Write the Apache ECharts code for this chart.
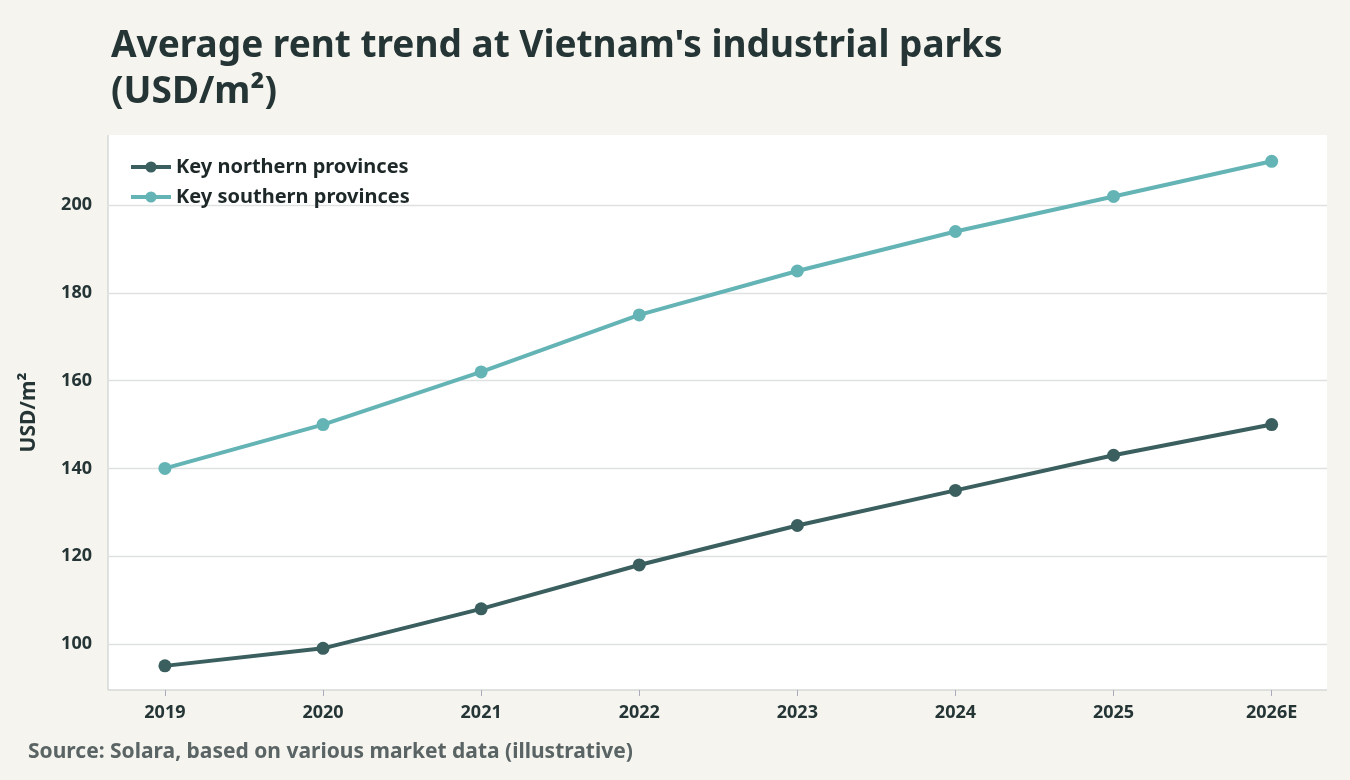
<!DOCTYPE html>
<html>
<head>
<meta charset="utf-8">
<script src="https://cdn.jsdelivr.net/npm/echarts@6/dist/echarts.min.js"></script>
<style>html,body{margin:0;background:#f5f4ef}#chart{width:1350px;height:780px}</style>
</head>
<body>
<div id="chart"></div>
<script>
// data
const years = ['2019', '2020', '2021', '2022', '2023', '2024', '2025', '2026E'];
const northern = [95, 99, 108, 118, 127, 135, 143, 150];
const southern = [140, 150, 162, 175, 185, 194, 202, 210];
const yTicks = [100, 120, 140, 160, 180, 200];

const chart = echarts.init(document.getElementById('chart'));
const font = '"Noto Sans", sans-serif';
const pairs = arr => arr.map((v, i) => [i, v]);
const xIdx = years.map((_, i) => i);

const option = {
  backgroundColor: '#f5f4ef',
  textStyle: { fontFamily: font },
  title: {
    text: "Average rent trend at Vietnam's industrial parks\n(USD/m²)",
    left: 106, top: 18,
    textStyle: { fontSize: 37, fontWeight: 'bold', color: '#253535', lineHeight: 46, fontFamily: font }
  },
  graphic: [
    { type: 'rect', z: -1, shape: { x: 108, y: 135, width: 1219, height: 555 }, style: { fill: '#fff' } },
    { type: 'line', shape: { x1: 108, y1: 690, x2: 1327, y2: 690 }, style: { stroke: '#d5d8d6', lineWidth: 1.5 } },
    { type: 'line', shape: { x1: 108, y1: 135, x2: 108, y2: 690 }, style: { stroke: '#d5d8d6', lineWidth: 1.5 } },
    { type: 'text', left: 28, top: 742, style: { text: 'Source: Solara, based on various market data (illustrative)', fontSize: 21, fontWeight: 'bold', fill: '#5a6464', fontFamily: font } }
  ],
  legend: {
    left: 124, top: 152, orient: 'vertical', itemGap: 10,
    itemWidth: 40, itemHeight: 14,
    lineStyle: { width: 4 },
    textStyle: { fontSize: 20, fontWeight: 'bold', color: '#1e2828' }
  },
  grid: { left: 108, right: 23, top: 135, bottom: 90 },
  xAxis: {
    type: 'value', min: -0.36, max: 7.35,
    axisLine: { show: false },
    axisTick: { show: true, length: 6, lineStyle: { color: '#aab' }, customValues: xIdx },
    splitLine: { show: false },
    axisLabel: {
      fontSize: 18, fontWeight: 'bold', color: '#253535', margin: 14,
      customValues: xIdx,
      formatter: v => years[Math.round(v)] || ''
    }
  },
  yAxis: {
    type: 'value', min: 89.5, max: 216,
    name: 'USD/m²', nameLocation: 'middle', nameGap: 68,
    nameTextStyle: { fontSize: 21, fontWeight: 'bold', color: '#253535' },
    axisLine: { show: false }, axisTick: { show: false },
    axisLabel: { fontSize: 18, fontWeight: 'bold', color: '#253535', margin: 16, customValues: yTicks },
    splitLine: { show: false }
  },
  series: [
    { name: 'Key northern provinces', type: 'line', data: pairs(northern), symbol: 'circle', symbolSize: 13,
      lineStyle: { width: 4, color: '#3b5f5f' }, itemStyle: { color: '#3b5f5f' },
      markLine: {
        silent: true, symbol: 'none', label: { show: false }, z: 0,
        lineStyle: { color: '#dde1e0', width: 1.3, type: 'solid' },
        data: yTicks.map(v => ({ yAxis: v }))
      } },
    { name: 'Key southern provinces', type: 'line', data: pairs(southern), symbol: 'circle', symbolSize: 13,
      lineStyle: { width: 4, color: '#64b4b6' }, itemStyle: { color: '#64b4b6' } }
  ]
};
chart.setOption(option);
</script>
</body>
</html>
